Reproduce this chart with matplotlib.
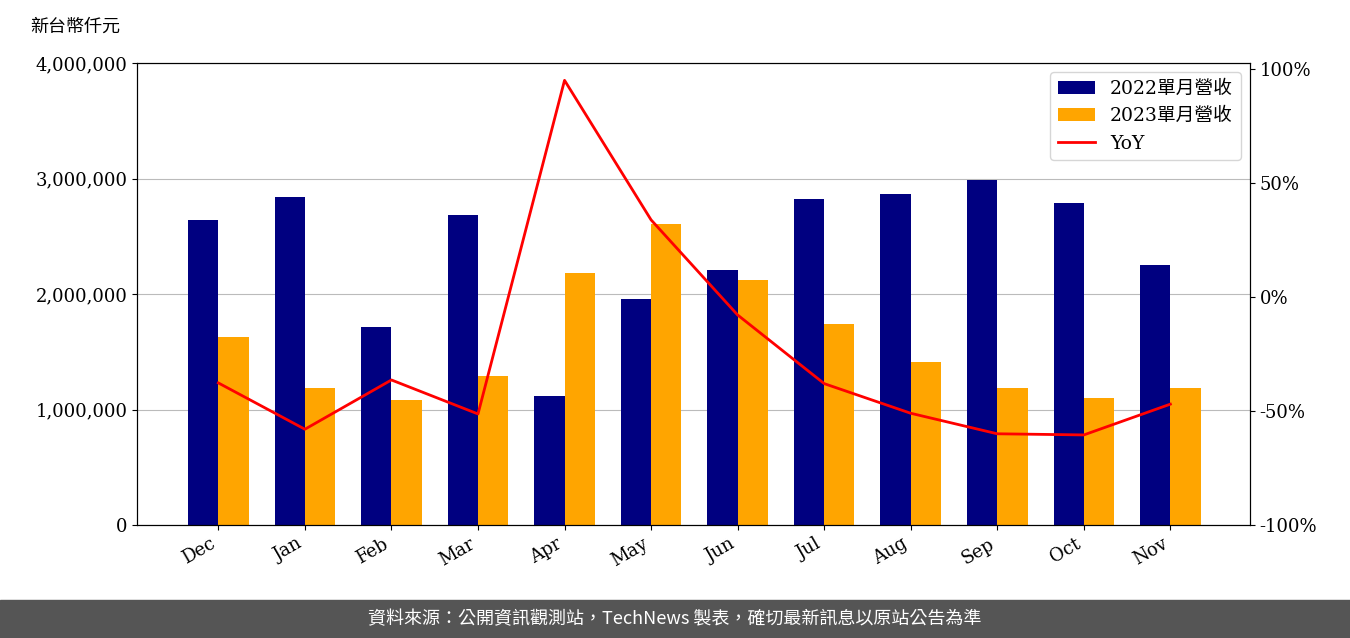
import matplotlib
matplotlib.use("Agg")
import matplotlib.pyplot as plt
import numpy as np
from matplotlib.ticker import FuncFormatter

months = ["Dec","Jan","Feb","Mar","Apr","May","Jun","Jul","Aug","Sep","Oct","Nov"]
rev2022 = [2640000,2840000,1710000,2680000,1120000,1960000,2210000,2820000,2870000,2990000,2790000,2250000]
rev2023 = [1630000,1190000,1080000,1290000,2180000,2610000,2120000,1740000,1410000,1190000,1100000,1190000]
yoy = [-37.7,-58.0,-36.4,-51.3,95.0,33.8,-7.9,-38.0,-51.0,-60.0,-60.5,-47.0]

plt.rcParams['font.family'] = ['DejaVu Serif', 'Noto Sans CJK TC']
fig = plt.figure(figsize=(13.5,6.38), dpi=100)
ax = fig.add_axes([137/1350, 1-525/638, (1250-137)/1350, (525-63)/638])
x = np.arange(len(months))
w = 0.35
b1 = ax.bar(x-w/2, rev2022, w, color='#000080', label='2022單月營收', zorder=2)
b2 = ax.bar(x+w/2, rev2023, w, color='#FFA500', label='2023單月營收', zorder=2)
ax.set_ylim(0,4000000)
ax.set_yticks([0,1000000,2000000,3000000,4000000])
ax.yaxis.set_major_formatter(FuncFormatter(lambda v,p: f"{int(v):,}"))
ax.grid(axis='y', color='#bbbbbb', zorder=0)
ax.set_xticks(x)
ax.set_xticklabels(months, rotation=30, ha='right')
ax.tick_params(labelsize=13)
ax.set_xlim(-0.94, 11.92)
ax2 = ax.twinx()
l, = ax2.plot(x, yoy, color='red', lw=2, label='YoY')
ax2.set_ylim(-100,102.6)
ax2.set_yticks([-100,-50,0,50,100])
ax2.yaxis.set_major_formatter(FuncFormatter(lambda v,p: f"{int(v)}%"))
ax2.tick_params(labelsize=13)
for a in (ax, ax2):
    for lab in a.get_yticklabels()+a.get_xticklabels():
        lab.set_fontfamily(['DejaVu Serif'])
leg = ax2.legend(handles=[b1,b2,l], loc='upper right',
                 prop={'family':['DejaVu Serif','Noto Sans CJK TC'],'size':13.5})
fig.text(30/1350, 1-27/638, '新台幣仟元', fontsize=13, family='Noto Sans CJK TC', va='center')
fig.patches.append(plt.Rectangle((0,0),1,38/638, transform=fig.transFigure, color='#555555'))
fig.text(0.5, 19/638, '資料來源：公開資訊觀測站，TechNews 製表，確切最新訊息以原站公告為準',
         color='white', fontsize=13, family='Noto Sans CJK TC', ha='center', va='center')
fig.savefig('out.png', dpi=100)
